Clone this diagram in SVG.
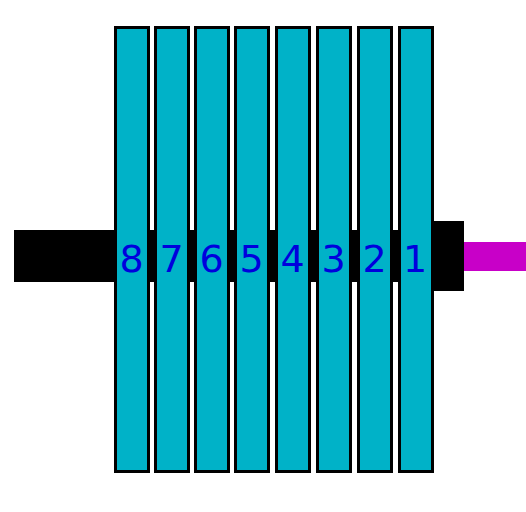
<svg xmlns="http://www.w3.org/2000/svg" width="526" height="512" viewBox="0 0 526 512">
<style>
.plate{fill:#00b2c8;stroke:#000;stroke-width:3}
.num{font-family:"DejaVu Sans",sans-serif;font-size:38px;fill:#0000dd;text-anchor:middle}
</style>
<rect width="526" height="512" fill="#fff"/>
<g id="shaft">
<rect x="14" y="230" width="420" height="52" fill="#000"/>
<rect x="432" y="221" width="32" height="70" fill="#000"/>
<rect x="464" y="242" width="62" height="29" fill="#c800c8"/>
</g>
<g id="plate8"><rect class="plate" x="115.5" y="27.5" width="33" height="444"/><text class="num" x="131.5" y="272">8</text></g>
<g id="plate7"><rect class="plate" x="155.5" y="27.5" width="33" height="444"/><text class="num" x="171.5" y="272">7</text></g>
<g id="plate6"><rect class="plate" x="195.5" y="27.5" width="33" height="444"/><text class="num" x="211.5" y="272">6</text></g>
<g id="plate5"><rect class="plate" x="235.5" y="27.5" width="33" height="444"/><text class="num" x="251.5" y="272">5</text></g>
<g id="plate4"><rect class="plate" x="276.5" y="27.5" width="33" height="444"/><text class="num" x="292.5" y="272">4</text></g>
<g id="plate3"><rect class="plate" x="317.5" y="27.5" width="33" height="444"/><text class="num" x="333.5" y="272">3</text></g>
<g id="plate2"><rect class="plate" x="358.5" y="27.5" width="33" height="444"/><text class="num" x="374.5" y="272">2</text></g>
<g id="plate1"><rect class="plate" x="399.5" y="27.5" width="33" height="444"/><text class="num" x="415" y="272">1</text></g>
</svg>
